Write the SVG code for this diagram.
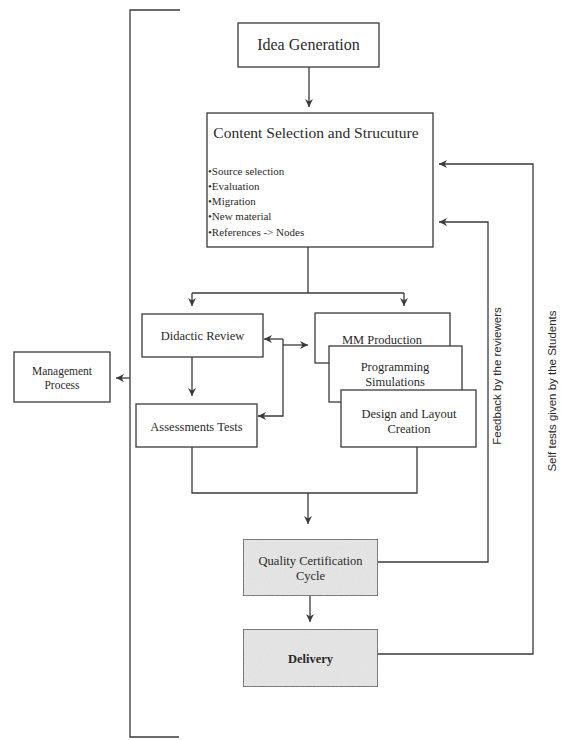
<svg xmlns="http://www.w3.org/2000/svg" width="562" height="740" viewBox="0 0 562 740">
<defs>
<marker id="ah" viewBox="0 0 10 10" refX="10" refY="5" markerWidth="8" markerHeight="8" markerUnits="userSpaceOnUse" orient="auto-start-reverse">
<path d="M0,0 L10,5 L0,10 L3,5 z" fill="#3a3a3a"/>
</marker>
<filter id="grain" x="0" y="0" width="100%" height="100%">
<feTurbulence type="fractalNoise" baseFrequency="0.9" numOctaves="1" seed="3" result="n"/>
<feColorMatrix in="n" type="matrix" values="0 0 0 0 0.55  0 0 0 0 0.55  0 0 0 0 0.55  0 0 0 0.35 0" result="g"/>
<feComposite in="g" in2="SourceGraphic" operator="in" result="gi"/>
<feMerge><feMergeNode in="SourceGraphic"/><feMergeNode in="gi"/></feMerge>
</filter>
</defs>
<style>
.box{fill:#fff;stroke:#3a3a3a;stroke-width:1.3}
.gbox{fill:#e9e9e9;stroke:#3a3a3a;stroke-width:1.5}
.ln{fill:none;stroke:#3a3a3a;stroke-width:1.3}
.t{font-family:"Liberation Serif","Times New Roman",serif;fill:#2a2a2a;text-anchor:middle}
.b{font-family:"Liberation Serif","Times New Roman",serif;fill:#2a2a2a;font-size:11px}
.s{font-family:"Liberation Sans",Arial,sans-serif;fill:#2a2a2a;font-size:11.5px;text-anchor:middle}
</style>
<rect width="562" height="740" fill="#fff"/>

<g id="connectors">
<path class="ln" d="M180,10 H130 V737 H179"/>
<path class="ln" d="M130,378 H116" marker-end="url(#ah)"/>
<path class="ln" d="M309,67 V107" marker-end="url(#ah)"/>
<path class="ln" d="M308,247 V293"/>
<path class="ln" d="M192,293 H404"/>
<path class="ln" d="M192,293 V306" marker-end="url(#ah)"/>
<path class="ln" d="M404,293 V306" marker-end="url(#ah)"/>
<path class="ln" d="M192,357 V396" marker-end="url(#ah)"/>
<path class="ln" d="M283,339 H264" marker-end="url(#ah)"/>
<path class="ln" d="M283,339 V416 H258" marker-end="url(#ah)"/>
<path class="ln" d="M283,345 H308" marker-end="url(#ah)"/>
<path class="ln" d="M192,447 V493 H417 V447"/>
<path class="ln" d="M308,493 V524" marker-end="url(#ah)"/>
<path class="ln" d="M310,596 V622" marker-end="url(#ah)"/>
<path class="ln" d="M378,562 H488 V222 H439" marker-end="url(#ah)"/>
<path class="ln" d="M378,654 H533 V164 H439" marker-end="url(#ah)"/>
</g>

<g id="idea">
<rect class="box" x="238" y="23" width="141" height="44"/>
<text class="t" x="308.5" y="50" font-size="16">Idea Generation</text>
</g>

<g id="content">
<rect class="box" x="207" y="113" width="226" height="134"/>
<text class="t" x="316" y="138" font-size="15.5">Content Selection and Strucuture</text>
<text class="b" x="208" y="175">•Source selection</text>
<text class="b" x="208" y="190">•Evaluation</text>
<text class="b" x="208" y="205">•Migration</text>
<text class="b" x="208" y="220">•New material</text>
<text class="b" x="208" y="236">•References -&gt; Nodes</text>
</g>

<g id="management">
<rect class="box" x="14" y="352" width="96" height="50"/>
<text class="t" x="62" y="375" font-size="11.5">Management</text>
<text class="t" x="62" y="389" font-size="11.5">Process</text>
</g>

<g id="didactic">
<rect class="box" x="142" y="314" width="121" height="43"/>
<text class="t" x="202.5" y="340" font-size="12.5">Didactic Review</text>
</g>

<g id="assessments">
<rect class="box" x="136" y="404" width="121" height="43"/>
<text class="t" x="196.5" y="431" font-size="12.5">Assessments Tests</text>
</g>

<g id="mm">
<rect class="box" x="315" y="313" width="135" height="50"/>
<text class="t" x="382" y="344" font-size="12.5">MM Production</text>
</g>

<g id="programming">
<rect class="box" x="329" y="346" width="133" height="56"/>
<text class="t" x="395" y="371" font-size="12.5">Programming</text>
<text class="t" x="395" y="386" font-size="12.5">Simulations</text>
</g>

<g id="design">
<rect class="box" x="341" y="390" width="135" height="57"/>
<text class="t" x="409" y="418" font-size="12.5">Design and Layout</text>
<text class="t" x="409" y="433" font-size="12.5">Creation</text>
</g>

<g id="quality">
<rect class="gbox" x="243" y="539" width="135" height="57" filter="url(#grain)"/>
<text class="t" x="310.5" y="565" font-size="12.5">Quality Certification</text>
<text class="t" x="310.5" y="580" font-size="12.5">Cycle</text>
</g>

<g id="delivery">
<rect class="gbox" x="243" y="629" width="135" height="58" filter="url(#grain)"/>
<text class="t" x="310.5" y="663" font-size="12.5" font-weight="bold">Delivery</text>
</g>

<g id="labels">
<text class="s" transform="translate(501,376) rotate(-90)">Feedback by the reviewers</text>
<text class="s" transform="translate(556,391) rotate(-90)">Self tests given by the Students</text>
</g>
</svg>
